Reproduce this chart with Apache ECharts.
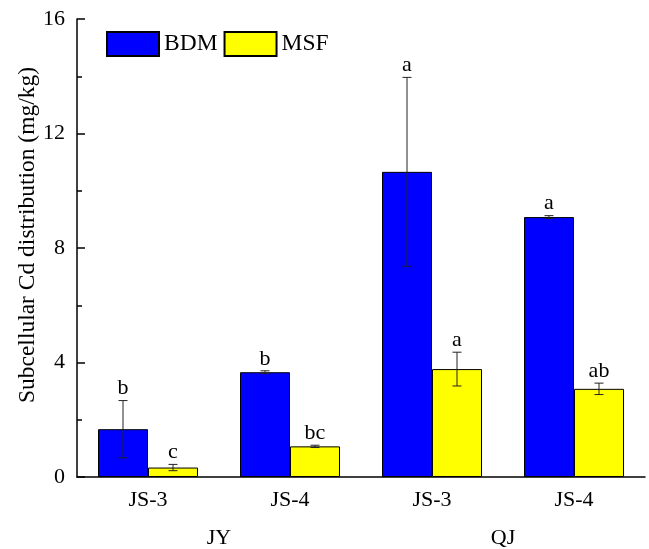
<!DOCTYPE html>
<html>
<head>
<meta charset="utf-8">
<script src="https://cdn.jsdelivr.net/npm/echarts@6/dist/echarts.min.js"></script>
<style>
  html, body { margin: 0; padding: 0; background: #fff; }
  #main { width: 649px; height: 549px; }
</style>
</head>
<body>
<div id="main"></div>
<script>
// 数据
var categories = ['JY|JS-3', 'JY|JS-4', 'QJ|JS-3', 'QJ|JS-4'];
var groups = ['JY', 'QJ'];
var bdm = [1.67, 3.66, 10.66, 9.08];
var bdmErr = [1.0, 0.05, 3.3, 0.05];
var bdmLetters = ['b', 'b', 'a', 'a'];
var msf = [0.33, 1.07, 3.77, 3.08];
var msfErr = [0.11, 0.04, 0.59, 0.2];
var msfLetters = ['c', 'bc', 'a', 'ab'];

var font = 'Liberation Serif';
var chart = echarts.init(document.getElementById('main'));

// 误差线 + 显著性字母
function errSeries(name, means, errs, letters, offset) {
  var data = means.map(function (m, i) { return [i, m, errs[i]]; });
  return {
    name: name + '-err',
    type: 'custom',
    z: 10,
    silent: true,
    data: data,
    renderItem: function (params, api) {
      var i = api.value(0), m = api.value(1), e = api.value(2);
      var letter = letters[params.dataIndex];
      var top = api.coord([i, m + e]);
      var bot = api.coord([i, m - e]);
      var x = top[0] + offset;
      var cap = 4.5;
      var ln = { stroke: '#222', lineWidth: 1 };
      return {
        type: 'group',
        children: [
          { type: 'line', shape: { x1: x, y1: top[1], x2: x, y2: bot[1] }, style: ln },
          { type: 'line', shape: { x1: x - cap, y1: top[1], x2: x + cap, y2: top[1] }, style: ln },
          { type: 'line', shape: { x1: x - cap, y1: bot[1], x2: x + cap, y2: bot[1] }, style: ln },
          { type: 'text', x: x, y: top[1] - 1, style: { text: letter, fill: '#000', font: '22px "' + font + '"', align: 'center', verticalAlign: 'bottom' } }
        ]
      };
    }
  };
}

chart.setOption({
  animation: false,
  backgroundColor: '#fff',
  grid: { left: 77, right: 4, top: 19, bottom: 72 },
  legend: {
    left: 106,
    top: 31,
    padding: 0,
    itemWidth: 52,
    itemHeight: 24,
    itemGap: 6,
    icon: 'rect',
    data: ['BDM', 'MSF'],
    textStyle: { fontFamily: font, fontSize: 23.5, color: '#000' }
  },
  xAxis: [
    {
      type: 'category',
      data: categories,
      axisLine: { lineStyle: { color: '#000', width: 1.5 } },
      axisTick: { show: false },
      axisLabel: {
        fontFamily: font, fontSize: 22, color: '#000', margin: 12,
        formatter: function (v) { return v.split('|')[1]; }
      }
    },
    {
      type: 'category',
      data: groups,
      position: 'bottom',
      offset: 38,
      axisLine: { show: false },
      axisTick: { show: false },
      axisLabel: { fontFamily: font, fontSize: 22, color: '#000', margin: 12 }
    }
  ],
  yAxis: {
    type: 'value',
    min: 0,
    max: 16,
    interval: 4,
    name: 'Subcellular Cd distribution (mg/kg)',
    nameLocation: 'middle',
    nameGap: 37,
    nameMoveOverlap: false,
    nameTextStyle: { fontFamily: font, fontSize: 23.5, color: '#000', padding: [0, 0, 0, 26] },
    axisLine: { show: true, lineStyle: { color: '#000', width: 1.5 } },
    axisTick: { show: true, inside: true, length: 8, lineStyle: { color: '#000', width: 1.5 } },
    minorTick: { show: true, splitNumber: 2, length: 5, lineStyle: { color: '#000', width: 1.5 } },
    splitLine: { show: false },
    axisLabel: { fontFamily: font, fontSize: 22, color: '#000', margin: 12 }
  },
  series: [
    {
      name: 'BDM', type: 'bar', data: bdm, barWidth: 50, barGap: '0%',
      itemStyle: { color: '#0000ff', borderColor: '#000', borderWidth: 1 }
    },
    {
      name: 'MSF', type: 'bar', data: msf, barWidth: 50, barGap: '0%',
      itemStyle: { color: '#ffff00', borderColor: '#000', borderWidth: 1 }
    },
    errSeries('BDM', bdm, bdmErr, bdmLetters, -25),
    errSeries('MSF', msf, msfErr, msfLetters, 25)
  ]
});
</script>
</body>
</html>
